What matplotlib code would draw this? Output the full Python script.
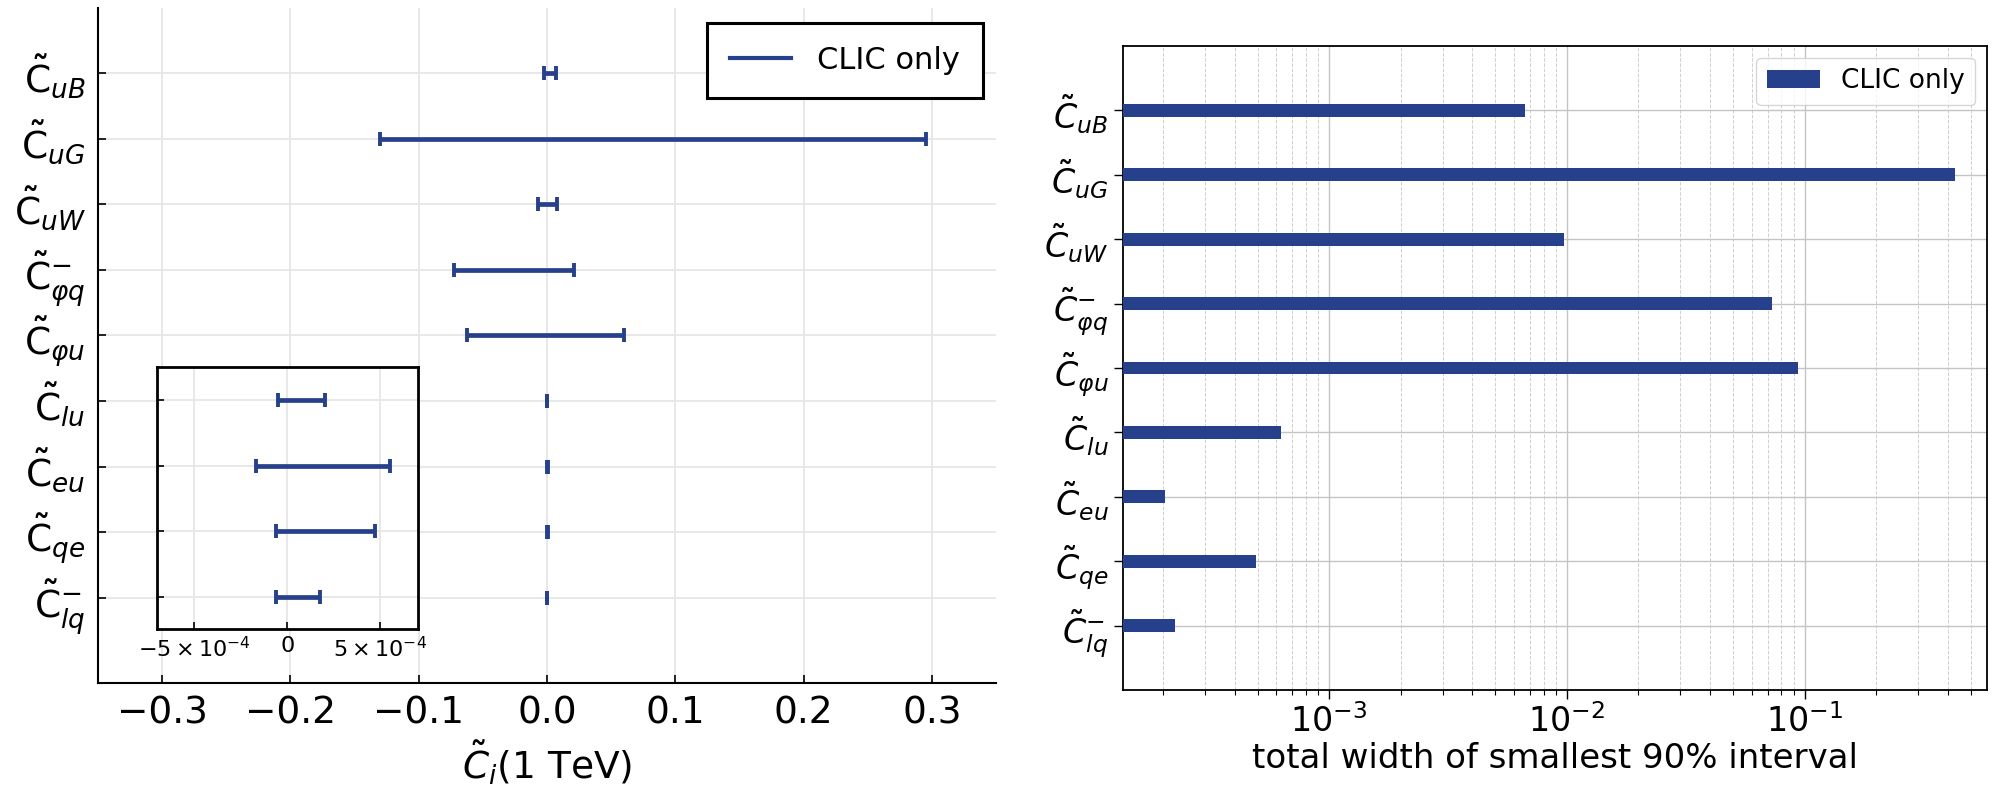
import matplotlib
matplotlib.use('Agg')
import matplotlib.pyplot as plt
from matplotlib.lines import Line2D
from matplotlib.ticker import LogLocator, NullFormatter
import numpy as np

# ---------------- data ----------------
coef_sub = ['uB', 'uG', 'uW', r'\varphi q', r'\varphi u', 'lu', 'eu', 'qe', 'lq']
coef_sup = ['', '', '', '-', '', '', '', '', '-']

# left panel: interval bounds C_i(1 TeV)
lower = [-0.0026, -0.130, -0.0069, -0.0722, -0.0621, -5.2e-5, -1.68e-4, -6.0e-5, -6.0e-5]
upper = [0.0074, 0.2954, 0.0078, 0.0208, 0.0600, 2.02e-4, 5.5e-4, 4.71e-4, 1.74e-4]

# right panel: total width of smallest 90% interval
widths = [6.69e-3, 0.4307, 9.76e-3, 0.0733, 0.0940, 6.29e-4, 2.03e-4, 4.94e-4, 2.25e-4]

series_label = 'CLIC only'
color = '#27408B'
inset_idx = [5, 6, 7, 8]

# ---------------- figure ----------------
W, H = 1995, 789
fig = plt.figure(figsize=(W / 100, H / 100), dpi=100)

def rect(x0, y0, x1, y1):
    return [x0 / W, 1 - y1 / H, (x1 - x0) / W, (y1 - y0) / H]

n = len(coef_sub)
pos = np.arange(n, 0, -1)
lower = np.array(lower)
upper = np.array(upper)
center = (lower + upper) / 2

left_labels = [r'$\tilde{\mathrm{C}}%s_{%s}$' % (('^{%s}' % s) if s else '', c)
               for c, s in zip(coef_sub, coef_sup)]
right_labels = [r'$\tilde{C}%s_{%s}$' % (('^{%s}' % s) if s else '', c)
                for c, s in zip(coef_sub, coef_sup)]

# ---- left panel ----
ax = fig.add_axes(rect(98, 7.6, 996, 683))
ax.errorbar(center, pos, xerr=[center - lower, upper - center], fmt='none',
            ecolor=color, elinewidth=3.4, capsize=5, capthick=2.8, zorder=3)
ax.set_xlim(-0.35, 0.35)
ax.set_ylim(-0.3, 10)
ax.set_xticks([-0.3, -0.2, -0.1, 0.0, 0.1, 0.2, 0.3])
ax.set_yticks(pos)
ax.set_yticklabels(left_labels)
ax.grid(True, color='#e6e6e6', lw=1.3)
ax.set_axisbelow(True)
for s in ['top', 'right']:
    ax.spines[s].set_visible(False)
for s in ['left', 'bottom']:
    ax.spines[s].set_linewidth(1.5)
ax.tick_params(direction='in', length=5.5, width=1.2, labelsize=27, pad=9)
ax.set_xlabel(r'$\tilde{C}_i$(1 TeV)', fontsize=27, labelpad=5)
h = Line2D([], [], color=color, lw=3)
leg = ax.legend([h], [series_label], loc='upper right',
                bbox_to_anchor=(983 / W, 1 - 22.8 / H), bbox_transform=fig.transFigure,
                borderaxespad=0, fancybox=False, framealpha=1, edgecolor='black',
                fontsize=22, borderpad=0.75, handlelength=2.0, handletextpad=0.85)
leg.get_frame().set_linewidth(2.2)

# ---- inset ----
ins = fig.add_axes(rect(156.7, 367.3, 417.7, 629.3))
ii = np.array(inset_idx)
ipos = np.arange(len(ii), 0, -1)
ins.errorbar(center[ii], ipos, xerr=[center[ii] - lower[ii], upper[ii] - center[ii]],
             fmt='none', ecolor=color, elinewidth=3.4, capsize=5, capthick=2.8, zorder=3)
ins.set_xlim(-7e-4, 7e-4)
ins.set_ylim(0.5, len(ii) + 0.5)
ins.set_xticks([-5e-4, 0, 5e-4])
ins.set_xticklabels([r'$-5\times10^{-4}$', '0', r'$5\times10^{-4}$'])
ins.set_yticks(ipos)
ins.set_yticklabels([])
ins.grid(True, color='#e6e6e6', lw=1.3)
ins.set_axisbelow(True)
for s in ins.spines.values():
    s.set_linewidth(2.0)
ins.tick_params(direction='in', length=5, width=1.2, labelsize=16, pad=5)

# ---- right panel ----
ax2 = fig.add_axes(rect(1122.7, 46, 1987, 690))
rpos = np.arange(n - 1, -1, -1)
ax2.barh(rpos, widths, height=0.2, color=color, label=series_label, zorder=3)
ax2.set_xscale('log')
ax2.set_xlim(1.354e-4, 0.5856)
ax2.set_ylim(-1, n)
ax2.set_yticks(rpos)
ax2.set_yticklabels(right_labels)
ax2.xaxis.set_minor_locator(LogLocator(base=10, subs=np.arange(2, 10)))
ax2.xaxis.set_minor_formatter(NullFormatter())
ax2.grid(True, which='major', axis='both', color='#c4c4c4', lw=1.0, ls='-')
ax2.grid(True, which='minor', axis='x', color='#cfcfcf', lw=0.7, ls='--')
ax2.set_axisbelow(True)
for s in ax2.spines.values():
    s.set_linewidth(1.3)
ax2.tick_params(which='major', direction='out', length=6.3, width=1.0, labelsize=24, pad=4)
ax2.tick_params(which='minor', direction='out', length=3.6, width=0.8)
ax2.set_xlabel('total width of smallest 90% interval', fontsize=24.5, labelpad=2)
ax2.legend(loc='upper right', fontsize=19, borderaxespad=0.45)

fig.savefig('out.png', dpi=100)
